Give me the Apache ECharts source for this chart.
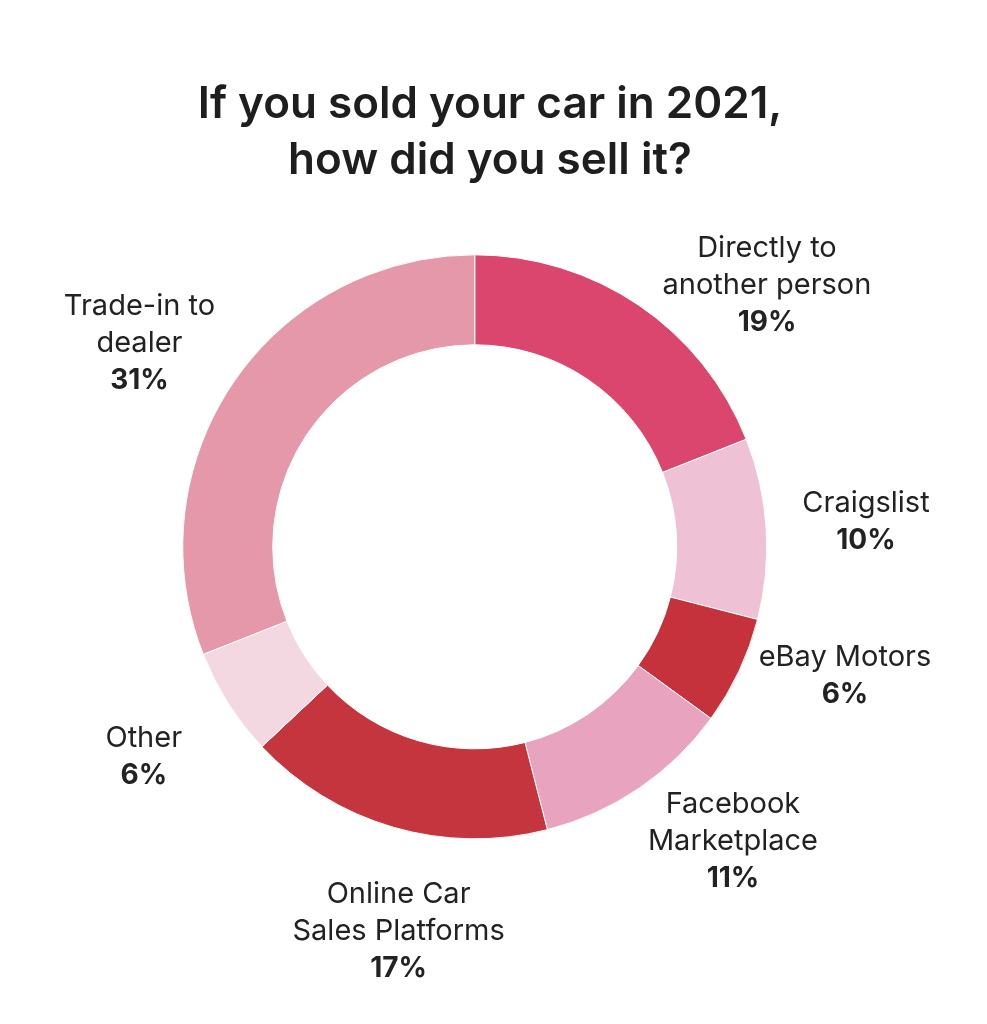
<!DOCTYPE html>
<html>
<head>
    <meta charset="utf-8">
    <title>Car sales 2021</title>
    <style type="text/css">
        html, body {
            margin: 0;
            width: 100%;
            height: 100%;
            background: #ffffff;
        }
        #main {
            width: 987px;
            height: 1024px;
        }
    </style>
</head>
<body>
    <div id="main"></div>
    <script src="https://cdn.jsdelivr.net/npm/echarts@6/dist/echarts.min.js"></script>
    <script>
        // 数据
        var categories = ['Directly to\nanother person', 'Craigslist', 'eBay Motors', 'Facebook\nMarketplace',
            'Online Car\nSales Platforms', 'Other', 'Trade-in to\ndealer'];
        var shares = [19, 10, 6, 11, 17, 6, 31];
        var colors = ['#db466f', '#eec1d5', '#c6323c', '#e8a4be', '#c5353d', '#f3d8e2', '#e498a9'];

        var CX = 0.481, CY = 0.534;   // 圆心 (相对宽高)
        var R_IN = 202, R_OUT = 292;  // 内外半径
        var LABEL_R = 392;            // 标签中心到圆心的距离
        // 标签相对扇区中线的角度微调 (度)
        var labelTurn = [14, 0, -6, -7, -5, 0, -3];

        var total = shares.reduce(function (a, b) { return a + b; }, 0);
        var before = [];
        shares.reduce(function (acc, v, i) { before[i] = acc; return acc + v; }, 0);

        var myChart = echarts.init(document.getElementById('main'));

        var option = {
            backgroundColor: '#ffffff',
            title: {
                text: 'If you sold your car in 2021,\nhow did you sell it?',
                left: 485,
                textAlign: 'center',
                top: 72,
                textStyle: {
                    fontFamily: 'Inter',
                    fontSize: 44,
                    fontWeight: 600,
                    lineHeight: 56,
                    color: '#1e1e1e'
                }
            },
            series: [{
                type: 'pie',
                center: [(CX * 100) + '%', (CY * 100) + '%'],
                radius: [R_IN, R_OUT],
                startAngle: 90,
                clockwise: true,
                silent: true,
                itemStyle: {
                    borderColor: '#ffffff',
                    borderWidth: 1
                },
                labelLine: { show: false },
                label: {
                    show: true,
                    position: 'outside',
                    fontFamily: 'Inter',
                    formatter: function (p) {
                        var lines = p.name.split('\n').map(function (l) { return '{n|' + l + '}'; });
                        return lines.join('\n') + '\n{p|' + p.value + '%}';
                    },
                    rich: {
                        n: { fontFamily: 'Inter', fontSize: 29, lineHeight: 37, color: '#222222', align: 'center' },
                        p: { fontFamily: 'Inter', fontSize: 28, lineHeight: 37, fontWeight: 'bold', color: '#222222', align: 'center' }
                    }
                },
                // 标签放在环外一圈
                labelLayout: function (p) {
                    var i = p.dataIndex;
                    var mid = (before[i] + shares[i] / 2) / total * Math.PI * 2 + labelTurn[i] * Math.PI / 180;
                    var cx = myChart.getWidth() * CX, cy = myChart.getHeight() * CY;
                    return {
                        x: cx + Math.sin(mid) * LABEL_R,
                        y: cy - Math.cos(mid) * LABEL_R,
                        align: 'center',
                        verticalAlign: 'middle'
                    };
                },
                data: categories.map(function (c, i) {
                    return { name: c, value: shares[i], itemStyle: { color: colors[i] } };
                })
            }]
        };

        myChart.setOption(option);
    </script>
</body>
</html>
